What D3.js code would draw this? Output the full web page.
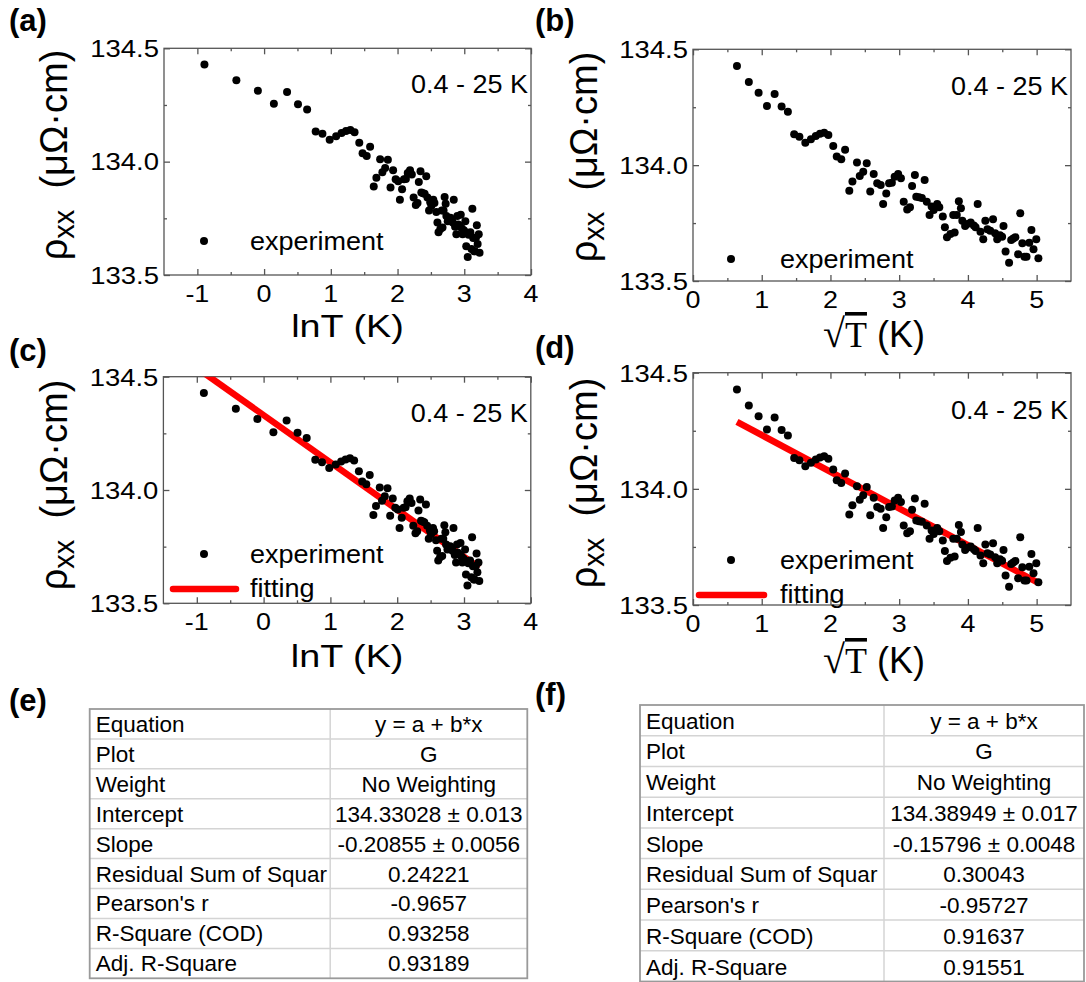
<!DOCTYPE html>
<html>
<head>
<meta charset="utf-8">
<title>rho_xx vs lnT and sqrtT</title>
<script src="https://d3js.org/d3.v7.min.js"></script>
<style>
  body { margin: 0; background: #fff; }
  svg text { font-family: "Liberation Sans", Arial, sans-serif; fill: #000; }
</style>
</head>
<body>
<div id="chart"></div>
<script>
// temperature (K) and resistivity (uOhm cm)
var tempK = [0.409,0.660,0.911,1.158,1.411,1.662,1.906,2.167,2.397,2.672,
  2.944,3.193,3.414,3.643,3.879,4.164,4.374,4.654,4.898,5.172,
  5.381,5.692,5.887,6.136,6.390,6.650,6.914,7.183,7.458,7.654,
  7.908,8.139,8.372,8.609,8.909,9.153,9.400,9.714,9.969,10.162,
  10.423,10.554,10.820,11.088,11.361,11.567,11.845,12.055,12.268,12.626,
  12.843,13.210,13.432,13.656,14.034,14.340,14.494,14.727,14.962,15.198,
  15.357,15.677,15.919,16.326,16.698,16.906,17.157,17.495,17.837,18.095,
  18.355,18.705,19.058,19.324,19.593,19.954,20.227,20.410,20.686,21.151,
  21.432,21.714,22.000,22.382,22.671,22.962,23.255,23.550,23.945,24.245,
  24.545,24.949,25.255];
var rhoXX = [134.428,134.359,134.313,134.255,134.307,134.253,134.230,134.133,134.123,134.097,
  134.112,134.126,134.135,134.140,134.130,134.083,134.037,134.025,134.066,133.890,
  133.929,134.011,133.953,133.972,134.008,133.886,133.962,133.922,133.914,133.832,
  133.878,133.922,133.924,133.950,133.962,133.943,133.842,133.809,133.818,133.910,
  133.958,133.864,133.861,133.858,133.936,133.842,133.785,133.821,133.806,133.832,
  133.818,133.778,133.732,133.689,133.703,133.785,133.709,133.785,133.844,133.814,
  133.760,133.737,133.746,133.752,133.740,133.732,133.832,133.713,133.680,133.760,
  133.723,133.717,133.766,133.706,133.680,133.697,133.691,133.737,133.627,133.579,
  133.677,133.683,133.689,133.615,133.792,133.663,133.605,133.605,133.665,133.720,
  133.637,133.680,133.598];

// linear fits y = a + b*x  [lnT fit, sqrtT fit]
var fitIntercept = [134.33028, 134.38949];
var fitSlope = [-0.20855, -0.15796];

var yTicks = [133.5, 134.0, 134.5];
var yMinor = [133.75, 134.25];
var xTicksLn = [-1, 0, 1, 2, 3, 4];
var xMinorLn = [-0.5, 0.5, 1.5, 2.5, 3.5];
var xTicksSqrt = [0, 1, 2, 3, 4, 5];
var xMinorSqrt = [0.5, 1.5, 2.5, 3.5, 4.5];

var rangeLabel = "0.4 - 25 K";

var tableNames = ["Equation", "Plot", "Weight", "Intercept", "Slope",
  "Residual Sum of Squar", "Pearson's r", "R-Square (COD)", "Adj. R-Square"];
var tableE = ["y = a + b*x", "G", "No Weighting", "134.33028 \u00b1 0.013",
  "-0.20855 \u00b1 0.0056", "0.24221", "-0.9657", "0.93258", "0.93189"];
var tableF = ["y = a + b*x", "G", "No Weighting", "134.38949 \u00b1 0.017",
  "-0.15796 \u00b1 0.0048", "0.30043", "-0.95727", "0.91637", "0.91551"];

var W = 1086, H = 982;
var svg = d3.select("#chart").append("svg").attr("width", W).attr("height", H);

// stretch text a bit wider, like the exported figure
function widen(sel, k) {
  sel.each(function() {
    var w = this.getComputedTextLength();
    d3.select(this).attr("textLength", w * k).attr("lengthAdjust", "spacingAndGlyphs");
  });
}

var panels = [
  {id: "a", x0: 164, x1: 531, y0: 48.3, y1: 275, kind: "ln", fit: false,
   label: [9, 31], ytx: 67, ytyc: 155, xtb: 337, legY: 241},
  {id: "b", x0: 693, x1: 1071, y0: 49.3, y1: 281, kind: "sqrt", fit: false,
   label: [535, 31], ytx: 597, ytyc: 157, xtb: 347, legY: 259},
  {id: "c", x0: 163.4, x1: 530.8, y0: 376.7, y1: 603.3, kind: "ln", fit: true,
   label: [9, 361], ytx: 67, ytyc: 485, xtb: 667, legY: 554},
  {id: "d", x0: 693, x1: 1071, y0: 372.7, y1: 605, kind: "sqrt", fit: true,
   label: [535, 358], ytx: 597, ytyc: 483, xtb: 673, legY: 560}
];

panels.forEach(function(p, i) {
  var isLn = p.kind === "ln";
  var xv = tempK.map(function(t) { return isLn ? Math.log(t) : Math.sqrt(t); });
  var x = d3.scaleLinear().domain(isLn ? [-1.5, 4] : [0, 5.5]).range([p.x0, p.x1]);
  var y = d3.scaleLinear().domain([133.5, 134.5]).range([p.y1, p.y0]);
  var major = isLn ? xTicksLn : xTicksSqrt;
  var minor = isLn ? xMinorLn : xMinorSqrt;
  var g = svg.append("g");

  // frame
  g.append("rect").attr("x", p.x0).attr("y", p.y0)
    .attr("width", p.x1 - p.x0).attr("height", p.y1 - p.y0)
    .attr("fill", "none").attr("stroke", "#555").attr("stroke-width", 1.3);

  // inward ticks on all four sides
  function ticks(axis, vals, size, tr) {
    var a = g.append("g").attr("transform", tr)
      .call(axis.tickValues(vals).tickSizeInner(-size).tickSizeOuter(0).tickFormat(""));
    a.select(".domain").remove();
    a.selectAll("line").attr("stroke", "#555").attr("stroke-width", 1.3);
  }
  ticks(d3.axisBottom(x), major, 6, "translate(0," + p.y1 + ")");
  ticks(d3.axisBottom(x), minor, 3, "translate(0," + p.y1 + ")");
  ticks(d3.axisTop(x), major, 6, "translate(0," + p.y0 + ")");
  ticks(d3.axisTop(x), minor, 3, "translate(0," + p.y0 + ")");
  ticks(d3.axisLeft(y), yTicks, 6, "translate(" + p.x0 + ",0)");
  ticks(d3.axisLeft(y), yMinor, 3, "translate(" + p.x0 + ",0)");
  ticks(d3.axisRight(y), yTicks, 6, "translate(" + p.x1 + ",0)");
  ticks(d3.axisRight(y), yMinor, 3, "translate(" + p.x1 + ",0)");

  // tick labels
  var xl = g.selectAll(".xl").data(major).enter().append("text")
    .attr("x", function(d) { return x(d); }).attr("y", p.y1 + 27)
    .attr("text-anchor", "middle").attr("font-size", 24)
    .text(function(d) { return d; });
  widen(xl, 1.12);
  var yl = g.selectAll(".yl").data(yTicks).enter().append("text")
    .attr("x", p.x0 - 5).attr("y", function(d) { return y(d); }).attr("dy", "0.36em")
    .attr("text-anchor", "end").attr("font-size", 24.5)
    .text(function(d) { return d3.format(".1f")(d); });
  widen(yl, 1.12);

  // fit line
  if (p.fit) {
    g.append("clipPath").attr("id", "clip" + p.id).append("rect")
      .attr("x", p.x0).attr("y", p.y0).attr("width", p.x1 - p.x0).attr("height", p.y1 - p.y0);
    var ext = d3.extent(xv);
    var a = fitIntercept[isLn ? 0 : 1], b = fitSlope[isLn ? 0 : 1];
    g.append("path").attr("clip-path", "url(#clip" + p.id + ")")
      .datum(ext)
      .attr("d", d3.line().x(function(d) { return x(d); }).y(function(d) { return y(a + b * d); }))
      .attr("stroke", "#f00").attr("stroke-width", 6.5).attr("fill", "none");
  }

  // points
  g.selectAll(".pt").data(rhoXX).enter().append("circle")
    .attr("cx", function(d, j) { return x(xv[j]); })
    .attr("cy", function(d) { return y(d); })
    .attr("r", 4).attr("fill", "#000");

  // range label
  var rl = g.append("text").attr("x", p.x1 - 3).attr("y", p.y0 + (isLn ? 45 : 46))
    .attr("text-anchor", "end").attr("font-size", 25).text(rangeLabel);
  widen(rl, 1.08);

  // legend
  var lx = isLn ? 204 : 731, tx = isLn ? 250 : 780;
  g.append("circle").attr("cx", lx).attr("cy", p.legY).attr("r", 4).attr("fill", "#000");
  var le = g.append("text").attr("x", tx).attr("y", p.legY + 9).attr("font-size", 25).text("experiment");
  widen(le, 1.08);
  if (p.fit) {
    var ly = p.legY + 35;
    g.append("line").attr("x1", isLn ? 173 : 699).attr("x2", isLn ? 236 : 764)
      .attr("y1", ly).attr("y2", ly)
      .attr("stroke", "#f00").attr("stroke-width", 6.5).attr("stroke-linecap", "round");
    var lf = g.append("text").attr("x", tx).attr("y", ly + 8).attr("font-size", 25).text("fitting");
    widen(lf, 1.08);
  }

  // y-axis title
  var yt = g.append("text")
    .attr("transform", "translate(" + p.ytx + "," + p.ytyc + ") rotate(-90)")
    .attr("text-anchor", "middle").attr("font-size", 38);
  yt.append("tspan").text("\u03c1");
  yt.append("tspan").attr("font-size", 29).attr("dy", 7).text("xx");
  yt.append("tspan").attr("dy", -7).text("  (\u03bc\u03a9\u00b7cm)").attr("xml:space", "preserve");

  // x-axis title
  var xcx = (p.x0 + p.x1) / 2;
  if (isLn) {
    var xt = g.append("text").attr("x", xcx).attr("y", p.xtb)
      .attr("text-anchor", "middle").attr("font-size", 32).text("lnT (K)");
    widen(xt, 1.18);
  } else {
    var xs = g.append("text").attr("x", xcx - 8).attr("y", p.xtb)
      .attr("text-anchor", "middle").attr("font-size", 36);
    xs.append("tspan").attr("font-family", "Liberation Serif, Times New Roman, serif")
      .attr("font-size", 40).text("\u221a");
    xs.append("tspan").attr("font-family", "Liberation Serif, Times New Roman, serif")
      .style("text-decoration", "overline").text("T");
    xs.append("tspan").text(" (K)");
  }

  // panel label
  g.append("text").attr("x", p.label[0]).attr("y", p.label[1])
    .attr("font-size", 31).attr("font-weight", "bold").text("(" + p.id + ")");
});

// fit result tables
var tables = [
  {id: "e", vals: tableE, x0: 89.7, xd: 330.2, x1: 527.3, y0: 709, y1: 978.3, label: [9, 711]},
  {id: "f", vals: tableF, x0: 640, xd: 884, x1: 1084, y0: 705, y1: 981.5, label: [535, 705]}
];

tables.forEach(function(t) {
  var g = svg.append("g");
  var rows = d3.scaleBand().domain(d3.range(tableNames.length)).range([t.y0, t.y1]);
  g.selectAll(".hl").data(d3.range(1, tableNames.length)).enter().append("line")
    .attr("x1", t.x0).attr("x2", t.x1)
    .attr("y1", function(d) { return rows(d); }).attr("y2", function(d) { return rows(d); })
    .attr("stroke", "#d4d4d4").attr("stroke-width", 1.5);
  g.append("line").attr("x1", t.xd).attr("x2", t.xd).attr("y1", t.y0).attr("y2", t.y1)
    .attr("stroke", "#d4d4d4").attr("stroke-width", 1.5);
  g.append("rect").attr("x", t.x0).attr("y", t.y0)
    .attr("width", t.x1 - t.x0).attr("height", t.y1 - t.y0)
    .attr("fill", "none").attr("stroke", "#9a9a9a").attr("stroke-width", 1.8);
  g.selectAll(".nm").data(tableNames).enter().append("text")
    .attr("x", t.x0 + 6).attr("y", function(d, i) { return rows(i) + rows.bandwidth() - 7; })
    .attr("font-size", 22.5).text(function(d) { return d; });
  g.selectAll(".vl").data(t.vals).enter().append("text")
    .attr("x", (t.xd + t.x1) / 2).attr("y", function(d, i) { return rows(i) + rows.bandwidth() - 7; })
    .attr("text-anchor", "middle").attr("font-size", 22.5).text(function(d) { return d; });
  g.append("text").attr("x", t.label[0]).attr("y", t.label[1])
    .attr("font-size", 31).attr("font-weight", "bold").text("(" + t.id + ")");
});
</script>
</body>
</html>
